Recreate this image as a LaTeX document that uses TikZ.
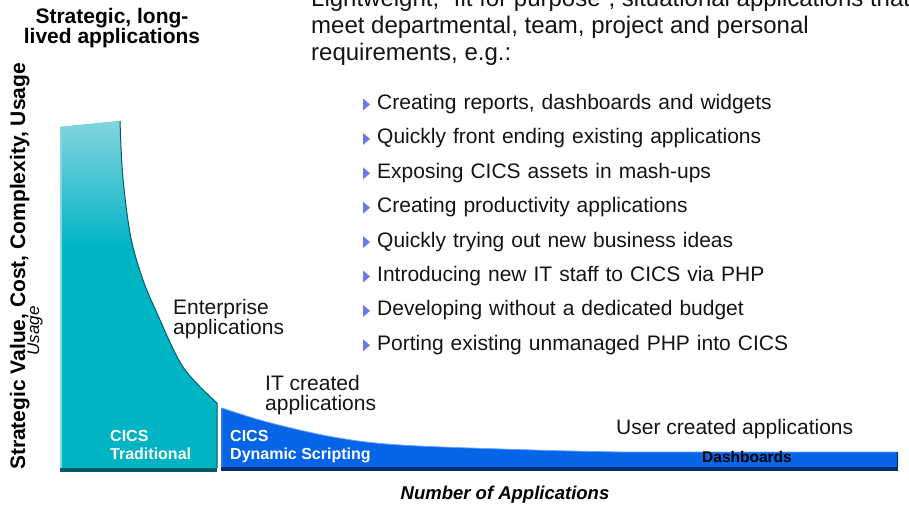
\documentclass[tikz,border=0pt]{standalone}
\usepackage{fontspec}
\setmainfont{Liberation Sans}
\usetikzlibrary{chains,positioning}
\definecolor{tealmain}{RGB}{0,180,196}
\definecolor{teallight}{RGB}{135,214,224}
\definecolor{tealdark}{RGB}{0,92,102}
\definecolor{bluemain}{RGB}{6,100,230}
\definecolor{bluelight}{RGB}{100,160,255}
\definecolor{bluedark}{RGB}{0,45,110}
\definecolor{bulletblue}{RGB}{104,122,238}
\begin{document}
\begin{tikzpicture}[x=1pt,y=1pt,
txt/.style={inner sep=0pt, font=\fontsize{21}{20}\selectfont, align=left, text=black!92},
item/.style={inner sep=0pt, font=\fontsize{21}{21}\selectfont, text width=440pt, align=left,
  text height=15pt, text depth=5pt, text=black!92},
inlabel/.style={inner sep=0pt, font=\fontsize{16}{18}\selectfont\bfseries, align=left, text=white},
bullet/.style={fill=bulletblue},
start chain=items going below, node distance=14pt
]
\useasboundingbox (0,0) rectangle (909,506);

% the two areas under the curve
\fill[tealmain] (60,38) -- (60,379) -- plot[smooth, tension=0.55] coordinates {(120,385) (122,340) (126,300) (132,263) (143,226) (156,195) (183,139) (217,103)} -- (217,38) -- cycle;
\begin{scope}
  \clip (60,38) -- (60,379) -- plot[smooth, tension=0.55] coordinates {(120,385) (122,340) (126,300) (132,263) (143,226) (156,195) (183,139) (217,103)} -- (217,38) -- cycle;
  \foreach \k in {0,...,29}
    \fill[teallight!\fpeval{100-\k*100/29}!tealmain] (55,390-\k*4.5) rectangle (225,385.5-\k*4.5);
\end{scope}
\draw[tealdark, line width=1pt] plot[smooth, tension=0.55] coordinates {(120,385) (122,340) (126,300) (132,263) (143,226) (156,195) (183,139) (217,103)} -- (217,38);
\draw[teallight, line width=1.5pt] (61,38) -- (61,379);
\fill[tealdark] (60,34) rectangle (217,38);

\fill[bluemain] (221,39) -- (221,98) -- plot[smooth, tension=0.55] coordinates {(222,98) (267,84) (333,69) (400,61) (533,56) (620,54)} -- (898,54) -- (898,39) -- cycle;
\draw[bluelight, line width=0.8pt] (222,39) -- (222,98) -- plot[smooth, tension=0.55] coordinates {(222,98) (267,84) (333,69) (400,61) (533,56) (620,54)} -- (896,54);
\draw[bluedark, line width=1.2pt] (897.4,54) -- (897.4,39);
\fill[bluedark] (221,35) rectangle (898,39);

% axis labels and headings
\node[rotate=90, anchor=base, inner sep=0pt, font=\fontsize{21}{21}\selectfont\bfseries] (ylab) at (25,239.5) {Strategic Value, Cost, Complexity, Usage};
\node[rotate=90, anchor=base, inner sep=0pt, font=\fontsize{17}{17}\selectfont\itshape] (usage) at (39,175) {Usage};
\node[anchor=base, align=center, inner sep=0pt, font=\fontsize{21}{19}\selectfont\bfseries] (title) at (112,462) {Strategic, long-\\lived applications};
\node[anchor=base, inner sep=0pt, font=\fontsize{18.5}{18.5}\selectfont\bfseries\itshape] (xlab) at (505,6.4) {Number of Applications};

\node[txt, font=\fontsize{24}{27}\selectfont, anchor=base west] (intro) at (311,445) {Lightweight, “fit for purpose”, situational applications that\\meet departmental, team, project and personal\\requirements, e.g.:};

\node[on chain, item, anchor=base west] (b1) at (377,396.5) {Creating reports, dashboards and widgets};
\node[on chain, item] (b2) {Quickly front ending existing applications};
\node[on chain, item] (b3) {Exposing CICS assets in mash-ups};
\node[on chain, item] (b4) {Creating productivity applications};
\node[on chain, item] (b5) {Quickly trying out new business ideas};
\node[on chain, item] (b6) {Introducing new IT staff to CICS via PHP};
\node[on chain, item] (b7) {Developing without a dedicated budget};
\node[on chain, item] (b8) {Porting existing unmanaged PHP into CICS};
\foreach \i in {1,...,8}
  \fill[bullet] (b\i.west) ++(-14,-6) -- ++(0,12) -- ++(7,-6) -- cycle;

\node[txt, anchor=base west] (ent) at (173,171.5) {Enterprise\\applications};
\node[txt, anchor=base west] (itc) at (265,95.5) {IT created\\applications};
\node[txt, anchor=base west] (user) at (616,71.5) {User created applications};

\node[inlabel, anchor=base west] (trad) at (110,46.3) {CICS\\Traditional};
\node[inlabel, anchor=base west] (dyn) at (230,46.3) {CICS\\Dynamic Scripting};
\node[anchor=base, inner sep=0pt, font=\fontsize{15.5}{15.5}\selectfont\bfseries] (dash) at (747,43.4) {Dashboards};
\end{tikzpicture}
\end{document}
